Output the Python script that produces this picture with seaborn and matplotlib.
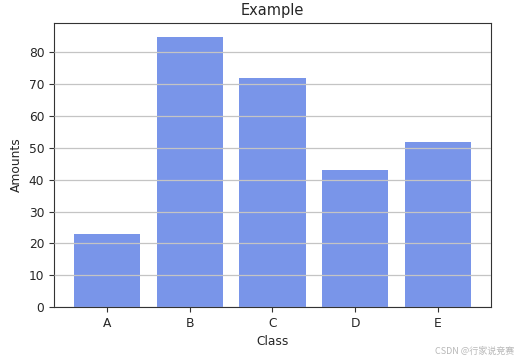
import matplotlib
matplotlib.use("Agg")
import matplotlib.pyplot as plt
import pandas as pd
import seaborn as sns

# data
classes = ['A', 'B', 'C', 'D', 'E']
amounts = [23, 85, 72, 43, 52]

df = pd.DataFrame({'Class': classes, 'Amounts': amounts})

plt.rcParams['text.color'] = '#262626'
plt.rcParams['axes.labelcolor'] = '#262626'
plt.rcParams['xtick.color'] = '#333333'
plt.rcParams['ytick.color'] = '#333333'
plt.rcParams['axes.edgecolor'] = '#333333'

fig, ax = plt.subplots(figsize=(5.22, 3.62), dpi=100)
fig.subplots_adjust(left=0.1034, right=0.9406, top=0.9365, bottom=0.152)

sns.barplot(data=df, x='Class', y='Amounts', color='royalblue', alpha=0.7,
            width=0.8, saturation=1, ax=ax)
ax.set_xlim(-0.64, 4.64)
ax.set_ylim(0, 89.25)
ax.set_yticks(range(0, 90, 10))
ax.grid(axis='y', color='#c4c4c4', linewidth=0.9)
ax.set_axisbelow(False)
ax.tick_params(labelsize=8.8, labelcolor='#262626')
ax.set_xlabel('Class', fontsize=8.8)
ax.set_ylabel('Amounts', fontsize=8.8)
ax.set_title('Example', fontsize=10.5)

fig.text(0.985, 0.018, 'CSDN @行家说竞赛', ha='right', va='bottom', fontsize=6.5,
         color='#b8b8b8', family=['Noto Sans CJK SC', 'DejaVu Sans'])

fig.savefig('out.png', dpi=100)
